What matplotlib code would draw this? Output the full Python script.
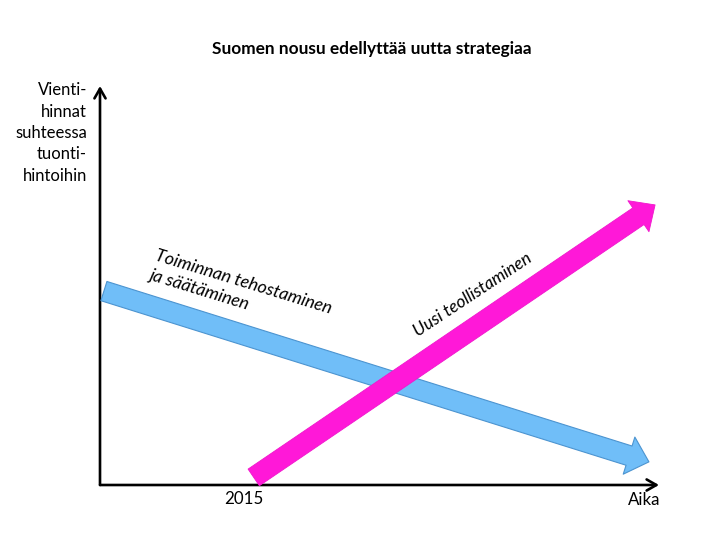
import matplotlib
matplotlib.use("Agg")
import matplotlib.pyplot as plt

plt.rcParams['font.family'] = ['Lato', 'DejaVu Sans']

# ---- data (conceptual units: time 0..100, relative price 0..100) ----
title = "Suomen nousu edellyttää uutta strategiaa"
y_label = "Vienti-\nhinnat\nsuhteessa\ntuonti-\nhintoihin"
x_label = "Aika"
x_tick_label = "2015"
x_tick_pos = 25.8

blue_label = "Toiminnan tehostaminen\nja säätäminen"
blue_start = [0.7, 48.6]
blue_end = [98.2, 5.8]

pink_label = "Uusi teollistaminen"
pink_start = [27.5, 1.9]
pink_end = [99.3, 70.2]

W, H = 720, 540
fig = plt.figure(figsize=(7.2, 5.4), dpi=100)
ax = fig.add_axes([100 / W, 55 / H, 559 / W, 399 / H])
ax.set_xlim(0, 100)
ax.set_ylim(0, 100)
ax.axis('off')

# axes arrows
for tip in [(1.0, 0), (0, 1.0)]:
    ax.annotate('', xy=tip, xytext=(0, 0), xycoords='axes fraction',
                arrowprops=dict(arrowstyle='->,head_length=0.35,head_width=0.2',
                                lw=1.9, color='black', shrinkA=0, shrinkB=0,
                                mutation_scale=20), annotation_clip=False)

# blue arrow
ax.annotate('', xy=tuple(blue_end), xytext=tuple(blue_start),
            arrowprops=dict(arrowstyle='simple,head_length=1.5,head_width=2.8,tail_width=1.45',
                            mutation_scale=10, facecolor='#70BEF8',
                            edgecolor='#4C94D0', lw=0.8, shrinkA=0, shrinkB=0),
            annotation_clip=False)

# pink arrow
ax.annotate('', xy=tuple(pink_end), xytext=tuple(pink_start),
            arrowprops=dict(arrowstyle='simple,head_length=1.45,head_width=2.7,tail_width=1.45',
                            mutation_scale=10, facecolor='#FF18D8',
                            edgecolor='#F018CC', lw=0.6, shrinkA=0, shrinkB=0),
            annotation_clip=False)

# tick label (below the x axis)
ax.annotate(x_tick_label, xy=(x_tick_pos, 0), xycoords='data',
            xytext=(0, -10), textcoords='offset points',
            ha='center', va='center', fontsize=12.2)

def px(x, y):
    return x / W, 1 - y / H

fig.text(*px(372, 49), title, ha='center', va='center', fontsize=12.4,
         fontweight='bold')
fig.text(*px(87, 133), y_label, ha='right', va='center', fontsize=12,
         linespacing=1.42)
fig.text(*px(644, 500), x_label, ha='center', va='center', fontsize=12.2)
fig.text(*px(158, 248), blue_label, ha='left', va='top', fontsize=12.8,
         style='italic', rotation=-17, rotation_mode='anchor', linespacing=1.3)
fig.text(*px(418, 337), pink_label, ha='left', va='baseline', fontsize=12.5,
         style='italic', rotation=33.5, rotation_mode='anchor')

fig.savefig('out.png', dpi=100)
